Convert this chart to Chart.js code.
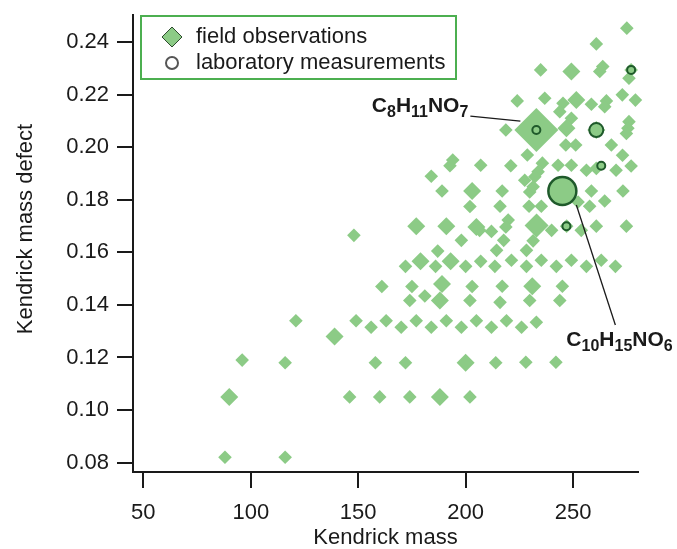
<!DOCTYPE html>
<html>
<head>
<meta charset="utf-8">
<script src="https://cdn.jsdelivr.net/npm/chart.js@4.4.1/dist/chart.umd.min.js"></script>
<style>
  html, body { margin: 0; padding: 0; background: #fff; }
  #wrap { width: 677px; height: 549px; }
</style>
</head>
<body>
<div id="wrap"><canvas id="kmdChart" width="677" height="549"></canvas></div>
<script>
// field observations (Kendrick mass, mass defect, abundance class 1-4)
const fieldMass = [
  88, 116, 90, 146, 160, 96, 116, 158, 121, 139, 149, 156, 163,
  174, 188, 202, 172, 200, 214, 170, 177, 184, 191, 198, 205, 212, 219, 226, 216,
  174, 181, 188, 202, 161, 175, 189, 203, 172, 179, 186, 193, 200, 207, 213.6,
  187, 198, 148, 177, 191, 205, 206.5, 212, 202, 189, 203, 184, 194, 192.7, 207,
  221, 235.7, 233.7, 232.2, 243, 249.2, 256.2, 260.8, 270, 277, 227.5, 229.8, 231.4,
  245, 258.5, 273.2, 217, 216, 229.5, 235.2, 252.3, 257.7, 264.7, 233, 247, 240,
  253.8, 260.8, 274.8, 219.8, 218.7, 217.7, 231.4, 214.4, 228.3, 221.3, 228.3, 235.2,
  242.2, 249.2, 256.2, 263.1, 269.7, 217, 231, 245, 229.8, 243.8, 232.9, 228, 242,
  275, 260.8, 234.9, 249.2, 263.8, 262.4, 277, 276, 224, 236.8, 245.3, 243.8, 251.5,
  258.5, 265.5, 264.7, 272.9, 279, 218.7, 232.9, 249.2, 246.9, 260.8, 276, 275.5,
  274.8, 246.6, 251.2, 267.8, 228.7, 273
];
const fieldDefect = [
  0.082, 0.082, 0.105, 0.105, 0.105, 0.119, 0.118, 0.118, 0.134, 0.128, 0.134, 0.1315, 0.134,
  0.105, 0.105, 0.105, 0.118, 0.118, 0.118, 0.1315, 0.134, 0.1315, 0.134, 0.1315, 0.134, 0.1315, 0.134, 0.1315, 0.141,
  0.1417, 0.1434, 0.1417, 0.1417, 0.147, 0.147, 0.148, 0.147, 0.1547, 0.1566, 0.1547, 0.1566, 0.1547, 0.1566, 0.1547,
  0.1605, 0.1646, 0.1665, 0.170, 0.170, 0.1697, 0.1684, 0.168, 0.1775, 0.1834, 0.1834, 0.189, 0.1952, 0.193, 0.1932,
  0.193, 0.194, 0.1907, 0.1888, 0.1932, 0.1932, 0.1913, 0.192, 0.1913, 0.1929, 0.1875, 0.183, 0.185,
  0.1834, 0.1834, 0.1834, 0.1834, 0.1776, 0.1776, 0.1776, 0.1792, 0.1776, 0.1796, 0.1703, 0.170, 0.1684,
  0.1684, 0.170, 0.170, 0.1723, 0.1697, 0.1646, 0.1644, 0.1608, 0.1608, 0.157, 0.1547, 0.157,
  0.1547, 0.157, 0.1547, 0.157, 0.1547, 0.1471, 0.1471, 0.1471, 0.1417, 0.1417, 0.1334, 0.1182, 0.1182,
  0.2454, 0.2394, 0.2295, 0.2289, 0.2308, 0.2289, 0.2295, 0.2263, 0.2177, 0.2187, 0.2168, 0.2136, 0.218,
  0.2164, 0.2177, 0.2155, 0.22, 0.218, 0.2066, 0.2066, 0.2111, 0.2073, 0.2066, 0.2098, 0.2073,
  0.2053, 0.2009, 0.2009, 0.2009, 0.1971, 0.197
];
const fieldAbundance = [
  1, 1, 2, 1, 1, 1, 1, 1, 1, 2, 1, 1, 1,
  1, 2, 1, 1, 2, 1, 1, 1, 1, 1, 1, 1, 1, 1, 1, 1,
  1, 1, 2, 1, 1, 1, 2, 1, 1, 2, 1, 2, 1, 1, 1,
  1, 1, 1, 2, 2, 2, 1, 1, 1, 1, 2, 1, 1, 1, 1,
  1, 1, 1, 1, 1, 1, 1, 1, 1, 1, 1, 1, 1,
  2, 1, 1, 1, 1, 1, 1, 1, 1, 1, 3, 1, 1,
  1, 1, 1, 1, 1, 1, 1, 1, 1, 1, 1, 1,
  1, 1, 1, 1, 1, 1, 2, 1, 1, 1, 1, 1, 1,
  1, 1, 1, 2, 1, 1, 1, 1, 1, 1, 1, 1, 2,
  1, 1, 1, 1, 1, 1, 4, 1, 2, 2, 1, 1,
  1, 1, 1, 1, 1, 1
];

// laboratory measurements
const labMass = [277, 232.9, 260.8, 263.1, 245, 246.9];
const labDefect = [0.2295, 0.2066, 0.2066, 0.193, 0.1834, 0.170];
const labAbundance = [1, 1, 2, 1, 3, 1];

const seriesNames = ['field observations', 'laboratory measurements'];
const xTicks = [50, 100, 150, 200, 250];
const yTicks = [0.08, 0.10, 0.12, 0.14, 0.16, 0.18, 0.20, 0.22, 0.24];

const annotFormula = ['C8H11NO7', 'C10H15NO6'];
const annotMass = [232.9, 245];
const annotDefect = [0.2066, 0.1834];

const FONT = '"Liberation Sans", Arial, Helvetica, sans-serif';
const GREEN = '#8ccb86';
const DARK = '#1a1a1a';
const fieldRadius = { 1: 6.8, 2: 9, 3: 12, 4: 22 };
const labRadius = { 1: 4, 2: 7, 3: 14 };

const toPoints = (xs, ys) => xs.map((x, i) => ({ x: x, y: ys[i] }));

function drawFormula(ctx, text, x, y, alignRight) {
  const parts = text.match(/[A-Za-z]+|\d+/g);
  const mainFont = 'bold 21px ' + FONT;
  const subFont = 'bold 16px ' + FONT;
  let w = 0;
  parts.forEach(p => {
    ctx.font = /\d/.test(p) ? subFont : mainFont;
    w += ctx.measureText(p).width;
  });
  let cx = alignRight ? x - w : x;
  parts.forEach(p => {
    const sub = /\d/.test(p);
    ctx.font = sub ? subFont : mainFont;
    ctx.fillText(p, cx, sub ? y + 5 : y);
    cx += ctx.measureText(p).width;
  });
}

const overlay = {
  id: 'overlay',
  afterDatasetsDraw(chart) {
    const ctx = chart.ctx;
    const xs = chart.scales.x, ys = chart.scales.y;
    ctx.save();
    ctx.strokeStyle = DARK;
    ctx.fillStyle = DARK;
    ctx.lineWidth = 1.3;
    ctx.textBaseline = 'alphabetic';

    // C8H11NO7 - label left of the point
    let px = xs.getPixelForValue(annotMass[0]);
    let py = ys.getPixelForValue(annotDefect[0]);
    ctx.beginPath();
    ctx.moveTo(px - 66, py - 14);
    ctx.lineTo(px - 16, py - 9);
    ctx.stroke();
    drawFormula(ctx, annotFormula[0], px - 68, py - 18, true);

    // C10H15NO6 - label below right
    px = xs.getPixelForValue(annotMass[1]);
    py = ys.getPixelForValue(annotDefect[1]);
    ctx.beginPath();
    ctx.moveTo(px + 14, py + 14);
    ctx.lineTo(px + 53, py + 134);
    ctx.stroke();
    drawFormula(ctx, annotFormula[1], px + 4, py + 155, false);
    ctx.restore();
  },
  afterDraw(chart) {
    const ctx = chart.ctx;
    ctx.save();
    // legend box
    ctx.fillStyle = '#fff';
    ctx.fillRect(141, 16, 315, 63);
    ctx.strokeStyle = '#4caf50';
    ctx.lineWidth = 2;
    ctx.strokeRect(141, 16, 315, 63);

    // diamond marker
    ctx.beginPath();
    ctx.moveTo(162, 37); ctx.lineTo(172, 27); ctx.lineTo(182, 37); ctx.lineTo(172, 47);
    ctx.closePath();
    ctx.fillStyle = GREEN;
    ctx.fill();
    ctx.strokeStyle = '#2e4a2e';
    ctx.lineWidth = 1;
    ctx.stroke();

    // circle marker
    ctx.beginPath();
    ctx.arc(172, 63, 6, 0, Math.PI * 2);
    ctx.strokeStyle = '#555';
    ctx.lineWidth = 2;
    ctx.stroke();

    ctx.fillStyle = DARK;
    ctx.font = '22px ' + FONT;
    ctx.textBaseline = 'middle';
    ctx.fillText(seriesNames[0], 196, 37);
    ctx.fillText(seriesNames[1], 196, 63);

    // y axis title
    ctx.translate(26, 229);
    ctx.rotate(-Math.PI / 2);
    ctx.textAlign = 'center';
    ctx.fillText('Kendrick mass defect', 0, 0);
    ctx.restore();
  }
};

const axisCommon = {
  type: 'linear',
  grid: { drawOnChartArea: false, drawTicks: true, tickLength: 16, color: DARK, lineWidth: 2 },
  border: { display: true, color: DARK, width: 2 }
};

new Chart(document.getElementById('kmdChart'), {
  type: 'scatter',
  data: {
    datasets: [
      {
        label: seriesNames[0],
        order: 2,
        data: toPoints(fieldMass, fieldDefect),
        pointStyle: 'rectRot',
        pointRadius: ctx => fieldRadius[fieldAbundance[ctx.dataIndex]],
        backgroundColor: GREEN,
        borderWidth: 0,
        clip: false
      },
      {
        label: seriesNames[1],
        order: 1,
        data: toPoints(labMass, labDefect),
        pointStyle: 'circle',
        pointRadius: ctx => labRadius[labAbundance[ctx.dataIndex]],
        backgroundColor: GREEN,
        borderColor: '#1f5a2b',
        borderWidth: ctx => labAbundance[ctx.dataIndex] === 3 ? 2.5 : 2,
        clip: false
      }
    ]
  },
  options: {
    responsive: false,
    animation: false,
    events: [],
    layout: { autoPadding: false, padding: { top: 15, right: 39, left: 0, bottom: 0 } },
    plugins: { legend: { display: false }, tooltip: { enabled: false } },
    scales: {
      x: {
        ...axisCommon,
        min: 45.2,
        max: 280.2,
        afterBuildTicks: s => { s.ticks = xTicks.map(v => ({ value: v })); },
        afterFit: s => { s.height = 77; },
        ticks: { color: DARK, font: { family: FONT, size: 22 }, padding: 12, maxRotation: 0 },
        title: { display: true, text: 'Kendrick mass', color: DARK, font: { family: FONT, size: 22 }, padding: { top: 0, bottom: -2 } }
      },
      y: {
        ...axisCommon,
        min: 0.0764,
        max: 0.2504,
        afterBuildTicks: s => { s.ticks = yTicks.map(v => ({ value: v })); },
        afterFit: s => { s.width = 133; },
        // small lineHeight keeps the top label from pushing the plot area down
        ticks: { color: DARK, font: { family: FONT, size: 22, lineHeight: 0.5 }, padding: 8, callback: v => v.toFixed(2) }
      }
    }
  },
  plugins: [overlay]
});
</script>
</body>
</html>
